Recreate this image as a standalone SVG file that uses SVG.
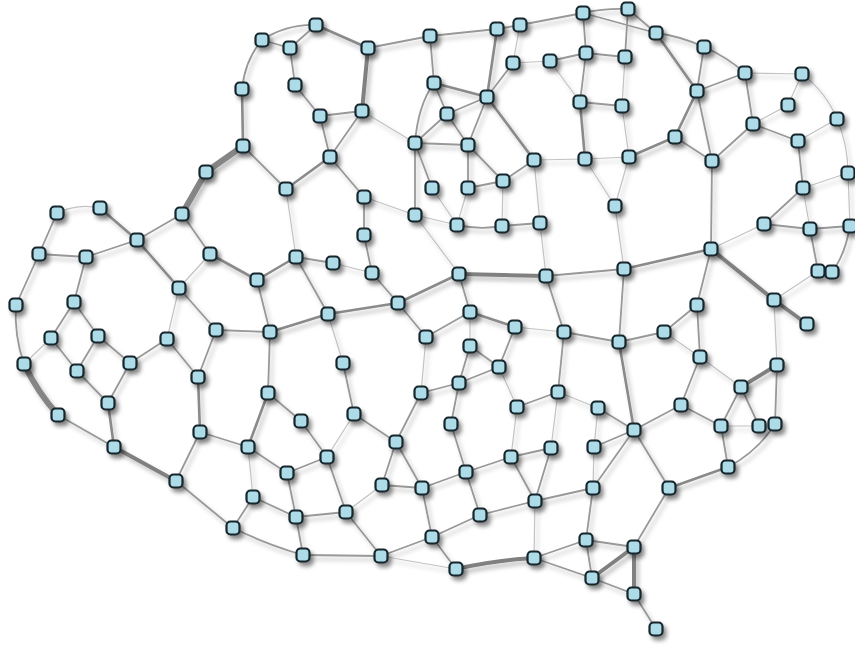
<svg xmlns="http://www.w3.org/2000/svg" xmlns:xlink="http://www.w3.org/1999/xlink" width="855" height="646" viewBox="0 0 855 646">
<style>
.e line,.e path{fill:none;stroke-linecap:round}
.w1{stroke:#c2c2c2;stroke-width:1.2}
.w2{stroke:#989898;stroke-width:1.8}
.w3{stroke:#8a8a8a;stroke-width:2.6}
.w4{stroke:#808080;stroke-width:4}
.w5{stroke:#858585;stroke-width:6}
.nd{fill:#aedbe8;stroke:#15252c;stroke-width:2.2}
</style>
<defs>
<filter id="sh" x="-5%" y="-5%" width="115%" height="115%">
<feDropShadow dx="3" dy="4" stdDeviation="2.2" flood-color="#000" flood-opacity="0.45"/>
</filter>
<filter id="shl" x="-5%" y="-5%" width="115%" height="115%">
<feDropShadow dx="3" dy="4" stdDeviation="2" flood-color="#000" flood-opacity="0.25"/>
</filter>
<rect id="n" class="nd" x="-6.5" y="-6.5" width="13" height="13" rx="4"/>
</defs>
<rect width="855" height="646" fill="#fff"/>
<g id="connectors" class="e" filter="url(#shl)">
<path class="w2" d="M262,40 Q287,24 316,25"/>
<line class="w2" x1="262" y1="40" x2="290" y2="48"/>
<line class="w2" x1="290" y1="48" x2="316" y2="25"/>
<line class="w3" x1="316" y1="25" x2="368" y2="48"/>
<line class="w2" x1="368" y1="48" x2="430" y2="36"/>
<path class="w2" d="M262,40 Q245,60 242,89"/>
<line class="w2" x1="290" y1="48" x2="295" y2="85"/>
<line class="w2" x1="295" y1="85" x2="320" y2="116"/>
<line class="w2" x1="320" y1="116" x2="362" y2="111"/>
<line class="w4" x1="368" y1="48" x2="362" y2="111"/>
<line class="w3" x1="242" y1="89" x2="243" y2="146"/>
<line class="w2" x1="320" y1="116" x2="330" y2="157"/>
<line class="w2" x1="362" y1="111" x2="330" y2="157"/>
<line class="w1" x1="362" y1="111" x2="415" y2="143"/>
<line class="w2" x1="243" y1="146" x2="286" y2="189"/>
<line class="w3" x1="286" y1="189" x2="330" y2="157"/>
<line class="w2" x1="330" y1="157" x2="364" y2="197"/>
<line class="w1" x1="364" y1="197" x2="415" y2="215"/>
<line class="w5" x1="243" y1="146" x2="206" y2="172"/>
<line class="w1" x1="286" y1="189" x2="296" y2="257"/>
<path class="w2" d="M415,143 Q418,105 434,83"/>
<line class="w2" x1="415" y1="143" x2="447" y2="114"/>
<line class="w2" x1="415" y1="143" x2="468" y2="145"/>
<line class="w2" x1="415" y1="143" x2="415" y2="215"/>
<line class="w2" x1="415" y1="143" x2="432" y2="188"/>
<line class="w1" x1="415" y1="215" x2="457" y2="225"/>
<line class="w1" x1="415" y1="215" x2="459" y2="274"/>
<line class="w2" x1="430" y1="36" x2="497" y2="29"/>
<line class="w2" x1="430" y1="36" x2="434" y2="83"/>
<line class="w2" x1="497" y1="29" x2="520" y2="25"/>
<line class="w2" x1="520" y1="25" x2="583" y2="13"/>
<path class="w2" d="M583,13 Q605,8 628,9"/>
<line class="w2" x1="583" y1="13" x2="656" y2="33"/>
<line class="w2" x1="628" y1="9" x2="656" y2="33"/>
<line class="w3" x1="497" y1="29" x2="487" y2="97"/>
<line class="w1" x1="520" y1="25" x2="513" y2="63"/>
<line class="w1" x1="513" y1="63" x2="550" y2="61"/>
<line class="w2" x1="550" y1="61" x2="586" y2="53"/>
<line class="w2" x1="586" y1="53" x2="625" y2="57"/>
<line class="w2" x1="583" y1="13" x2="586" y2="53"/>
<line class="w2" x1="628" y1="9" x2="625" y2="57"/>
<line class="w1" x1="550" y1="61" x2="580" y2="102"/>
<line class="w2" x1="586" y1="53" x2="580" y2="102"/>
<line class="w2" x1="580" y1="102" x2="622" y2="106"/>
<line class="w1" x1="625" y1="57" x2="622" y2="106"/>
<line class="w3" x1="580" y1="102" x2="585" y2="159"/>
<line class="w1" x1="622" y1="106" x2="629" y2="157"/>
<line class="w1" x1="585" y1="159" x2="629" y2="157"/>
<line class="w1" x1="534" y1="160" x2="585" y2="159"/>
<line class="w1" x1="585" y1="159" x2="615" y2="206"/>
<line class="w1" x1="629" y1="157" x2="615" y2="206"/>
<line class="w3" x1="487" y1="97" x2="534" y2="160"/>
<line class="w2" x1="513" y1="63" x2="487" y2="97"/>
<line class="w3" x1="434" y1="83" x2="487" y2="97"/>
<line class="w2" x1="434" y1="83" x2="447" y2="114"/>
<line class="w2" x1="487" y1="97" x2="447" y2="114"/>
<line class="w2" x1="487" y1="97" x2="468" y2="145"/>
<line class="w2" x1="447" y1="114" x2="468" y2="145"/>
<line class="w2" x1="468" y1="145" x2="468" y2="188"/>
<line class="w2" x1="468" y1="145" x2="503" y2="181"/>
<line class="w1" x1="432" y1="188" x2="457" y2="225"/>
<line class="w1" x1="468" y1="188" x2="457" y2="225"/>
<line class="w2" x1="468" y1="188" x2="503" y2="181"/>
<line class="w2" x1="534" y1="160" x2="503" y2="181"/>
<line class="w1" x1="534" y1="160" x2="540" y2="223"/>
<line class="w1" x1="503" y1="181" x2="502" y2="226"/>
<path class="w2" d="M457,225 Q480,230 502,226"/>
<line class="w2" x1="502" y1="226" x2="540" y2="223"/>
<line class="w3" x1="629" y1="157" x2="675" y2="137"/>
<path class="w2" d="M656,33 Q680,36 704,47"/>
<path class="w2" d="M704,47 Q727,57 745,73"/>
<line class="w1" x1="745" y1="73" x2="802" y2="74"/>
<path class="w1" d="M802,74 Q826,92 837,119"/>
<path class="w1" d="M837,119 Q848,145 848,173"/>
<line class="w3" x1="656" y1="33" x2="697" y2="91"/>
<line class="w2" x1="704" y1="47" x2="697" y2="91"/>
<line class="w2" x1="697" y1="91" x2="745" y2="73"/>
<line class="w2" x1="745" y1="73" x2="753" y2="124"/>
<line class="w1" x1="753" y1="124" x2="788" y2="105"/>
<line class="w1" x1="788" y1="105" x2="802" y2="74"/>
<line class="w2" x1="753" y1="124" x2="798" y2="141"/>
<line class="w1" x1="798" y1="141" x2="837" y2="119"/>
<line class="w2" x1="798" y1="141" x2="803" y2="188"/>
<line class="w1" x1="803" y1="188" x2="848" y2="173"/>
<line class="w3" x1="697" y1="91" x2="675" y2="137"/>
<line class="w2" x1="697" y1="91" x2="712" y2="161"/>
<line class="w2" x1="675" y1="137" x2="712" y2="161"/>
<line class="w2" x1="712" y1="161" x2="753" y2="124"/>
<line class="w2" x1="712" y1="161" x2="711" y2="249"/>
<line class="w2" x1="803" y1="188" x2="764" y2="224"/>
<line class="w1" x1="803" y1="188" x2="810" y2="229"/>
<line class="w1" x1="848" y1="173" x2="850" y2="226"/>
<line class="w2" x1="764" y1="224" x2="810" y2="229"/>
<line class="w2" x1="810" y1="229" x2="850" y2="226"/>
<line class="w1" x1="764" y1="224" x2="711" y2="249"/>
<line class="w2" x1="810" y1="229" x2="818" y2="271"/>
<path class="w2" d="M850,226 Q845,255 832,272"/>
<line class="w4" x1="711" y1="249" x2="774" y2="300"/>
<line class="w4" x1="774" y1="300" x2="807" y2="324"/>
<line class="w1" x1="774" y1="300" x2="818" y2="271"/>
<line class="w3" x1="711" y1="249" x2="624" y2="269"/>
<line class="w2" x1="711" y1="249" x2="697" y2="305"/>
<line class="w2" x1="697" y1="305" x2="664" y2="332"/>
<line class="w2" x1="664" y1="332" x2="619" y2="342"/>
<line class="w2" x1="697" y1="305" x2="700" y2="357"/>
<line class="w1" x1="664" y1="332" x2="700" y2="357"/>
<line class="w1" x1="774" y1="300" x2="777" y2="365"/>
<line class="w4" x1="777" y1="365" x2="741" y2="387"/>
<line class="w2" x1="777" y1="365" x2="775" y2="424"/>
<line class="w2" x1="741" y1="387" x2="721" y2="426"/>
<line class="w2" x1="741" y1="387" x2="759" y2="426"/>
<line class="w1" x1="700" y1="357" x2="741" y2="387"/>
<line class="w2" x1="700" y1="357" x2="681" y2="405"/>
<line class="w2" x1="681" y1="405" x2="721" y2="426"/>
<line class="w2" x1="681" y1="405" x2="634" y2="430"/>
<line class="w1" x1="721" y1="426" x2="759" y2="426"/>
<line class="w2" x1="721" y1="426" x2="728" y2="467"/>
<path class="w2" d="M775,424 Q757,452 728,467"/>
<line class="w3" x1="728" y1="467" x2="669" y2="488"/>
<line class="w2" x1="669" y1="488" x2="634" y2="430"/>
<line class="w2" x1="669" y1="488" x2="634" y2="547"/>
<line class="w4" x1="634" y1="547" x2="634" y2="594"/>
<line class="w2" x1="634" y1="594" x2="656" y2="629"/>
<line class="w4" x1="459" y1="274" x2="546" y2="276"/>
<line class="w2" x1="546" y1="276" x2="624" y2="269"/>
<line class="w3" x1="459" y1="274" x2="398" y2="303"/>
<line class="w2" x1="459" y1="274" x2="470" y2="312"/>
<line class="w1" x1="546" y1="276" x2="540" y2="223"/>
<line class="w1" x1="624" y1="269" x2="615" y2="206"/>
<line class="w2" x1="546" y1="276" x2="564" y2="332"/>
<line class="w1" x1="515" y1="327" x2="564" y2="332"/>
<line class="w3" x1="470" y1="312" x2="515" y2="327"/>
<line class="w2" x1="470" y1="312" x2="426" y2="337"/>
<line class="w1" x1="470" y1="312" x2="470" y2="346"/>
<line class="w2" x1="515" y1="327" x2="499" y2="367"/>
<line class="w2" x1="470" y1="346" x2="499" y2="367"/>
<line class="w2" x1="499" y1="367" x2="459" y2="383"/>
<line class="w2" x1="470" y1="346" x2="459" y2="383"/>
<line class="w2" x1="459" y1="383" x2="421" y2="393"/>
<line class="w2" x1="459" y1="383" x2="451" y2="424"/>
<line class="w1" x1="499" y1="367" x2="517" y2="407"/>
<line class="w2" x1="517" y1="407" x2="558" y2="392"/>
<line class="w2" x1="564" y1="332" x2="558" y2="392"/>
<line class="w2" x1="564" y1="332" x2="619" y2="342"/>
<line class="w2" x1="624" y1="269" x2="619" y2="342"/>
<line class="w3" x1="619" y1="342" x2="634" y2="430"/>
<line class="w2" x1="598" y1="408" x2="634" y2="430"/>
<line class="w1" x1="558" y1="392" x2="598" y2="408"/>
<line class="w1" x1="426" y1="337" x2="421" y2="393"/>
<line class="w3" x1="296" y1="257" x2="257" y2="280"/>
<line class="w2" x1="296" y1="257" x2="333" y2="263"/>
<line class="w2" x1="296" y1="257" x2="328" y2="314"/>
<line class="w3" x1="257" y1="280" x2="210" y2="254"/>
<line class="w2" x1="257" y1="280" x2="270" y2="332"/>
<line class="w3" x1="328" y1="314" x2="270" y2="332"/>
<line class="w2" x1="270" y1="332" x2="216" y2="330"/>
<line class="w3" x1="328" y1="314" x2="398" y2="303"/>
<line class="w1" x1="328" y1="314" x2="343" y2="363"/>
<line class="w2" x1="398" y1="303" x2="372" y2="273"/>
<line class="w2" x1="372" y1="273" x2="364" y2="235"/>
<line class="w2" x1="364" y1="235" x2="364" y2="197"/>
<line class="w1" x1="372" y1="273" x2="333" y2="263"/>
<line class="w2" x1="398" y1="303" x2="426" y2="337"/>
<line class="w2" x1="270" y1="332" x2="268" y2="393"/>
<line class="w2" x1="343" y1="363" x2="354" y2="414"/>
<line class="w2" x1="268" y1="393" x2="301" y2="421"/>
<line class="w3" x1="268" y1="393" x2="248" y2="447"/>
<line class="w2" x1="421" y1="393" x2="396" y2="442"/>
<line class="w2" x1="354" y1="414" x2="396" y2="442"/>
<line class="w1" x1="354" y1="414" x2="327" y2="457"/>
<line class="w2" x1="301" y1="421" x2="327" y2="457"/>
<path class="w1" d="M57,213 Q78,203 100,208"/>
<line class="w2" x1="57" y1="213" x2="39" y2="254"/>
<line class="w3" x1="100" y1="208" x2="137" y2="240"/>
<line class="w2" x1="182" y1="214" x2="137" y2="240"/>
<line class="w2" x1="182" y1="214" x2="210" y2="254"/>
<line class="w3" x1="137" y1="240" x2="179" y2="288"/>
<line class="w2" x1="137" y1="240" x2="86" y2="257"/>
<line class="w2" x1="39" y1="254" x2="86" y2="257"/>
<line class="w2" x1="39" y1="254" x2="16" y2="305"/>
<line class="w2" x1="86" y1="257" x2="74" y2="302"/>
<line class="w1" x1="210" y1="254" x2="179" y2="288"/>
<line class="w2" x1="179" y1="288" x2="216" y2="330"/>
<line class="w1" x1="179" y1="288" x2="167" y2="339"/>
<line class="w2" x1="74" y1="302" x2="51" y2="338"/>
<line class="w2" x1="74" y1="302" x2="98" y2="336"/>
<line class="w2" x1="51" y1="338" x2="77" y2="371"/>
<line class="w2" x1="98" y1="336" x2="77" y2="371"/>
<line class="w2" x1="98" y1="336" x2="130" y2="363"/>
<line class="w2" x1="130" y1="363" x2="167" y2="339"/>
<line class="w2" x1="77" y1="371" x2="108" y2="403"/>
<line class="w2" x1="130" y1="363" x2="108" y2="403"/>
<line class="w2" x1="167" y1="339" x2="198" y2="377"/>
<line class="w2" x1="198" y1="377" x2="216" y2="330"/>
<line class="w3" x1="198" y1="377" x2="200" y2="432"/>
<path class="w2" d="M16,305 Q14,335 24,364"/>
<line class="w1" x1="24" y1="364" x2="51" y2="338"/>
<path class="w5" d="M24,364 Q38,393 58,415"/>
<line class="w3" x1="108" y1="403" x2="114" y2="447"/>
<line class="w2" x1="58" y1="415" x2="114" y2="447"/>
<line class="w4" x1="114" y1="447" x2="176" y2="481"/>
<line class="w2" x1="200" y1="432" x2="176" y2="481"/>
<line class="w2" x1="176" y1="481" x2="233" y2="528"/>
<line class="w5" x1="182" y1="214" x2="206" y2="172"/>
<line class="w2" x1="200" y1="432" x2="248" y2="447"/>
<line class="w2" x1="248" y1="447" x2="287" y2="473"/>
<line class="w2" x1="287" y1="473" x2="327" y2="457"/>
<line class="w2" x1="287" y1="473" x2="296" y2="517"/>
<line class="w1" x1="248" y1="447" x2="253" y2="497"/>
<line class="w2" x1="253" y1="497" x2="296" y2="517"/>
<line class="w2" x1="253" y1="497" x2="233" y2="528"/>
<path class="w2" d="M233,528 Q268,545 303,555"/>
<line class="w2" x1="296" y1="517" x2="303" y2="555"/>
<line class="w2" x1="327" y1="457" x2="346" y2="512"/>
<line class="w2" x1="296" y1="517" x2="346" y2="512"/>
<line class="w2" x1="346" y1="512" x2="381" y2="556"/>
<line class="w2" x1="303" y1="555" x2="381" y2="556"/>
<line class="w1" x1="346" y1="512" x2="382" y2="485"/>
<line class="w2" x1="381" y1="556" x2="432" y2="537"/>
<line class="w1" x1="381" y1="556" x2="456" y2="569"/>
<line class="w2" x1="396" y1="442" x2="382" y2="485"/>
<line class="w2" x1="396" y1="442" x2="422" y2="488"/>
<line class="w2" x1="382" y1="485" x2="422" y2="488"/>
<line class="w2" x1="422" y1="488" x2="432" y2="537"/>
<line class="w2" x1="451" y1="424" x2="466" y2="472"/>
<line class="w2" x1="466" y1="472" x2="511" y2="457"/>
<line class="w2" x1="511" y1="457" x2="551" y2="448"/>
<line class="w2" x1="551" y1="448" x2="535" y2="501"/>
<line class="w2" x1="511" y1="457" x2="535" y2="501"/>
<line class="w1" x1="551" y1="448" x2="558" y2="392"/>
<line class="w1" x1="511" y1="457" x2="517" y2="407"/>
<line class="w2" x1="594" y1="447" x2="634" y2="430"/>
<line class="w1" x1="594" y1="447" x2="598" y2="408"/>
<line class="w1" x1="594" y1="447" x2="593" y2="488"/>
<line class="w2" x1="593" y1="488" x2="634" y2="430"/>
<line class="w2" x1="535" y1="501" x2="593" y2="488"/>
<line class="w2" x1="466" y1="472" x2="422" y2="488"/>
<line class="w2" x1="466" y1="472" x2="480" y2="515"/>
<line class="w2" x1="535" y1="501" x2="480" y2="515"/>
<line class="w1" x1="535" y1="501" x2="534" y2="558"/>
<line class="w2" x1="480" y1="515" x2="432" y2="537"/>
<line class="w2" x1="432" y1="537" x2="456" y2="569"/>
<path class="w4" d="M456,569 Q497,560 534,558"/>
<line class="w2" x1="534" y1="558" x2="586" y2="540"/>
<line class="w2" x1="593" y1="488" x2="586" y2="540"/>
<line class="w2" x1="586" y1="540" x2="634" y2="547"/>
<line class="w2" x1="586" y1="540" x2="592" y2="578"/>
<line class="w2" x1="534" y1="558" x2="592" y2="578"/>
<line class="w4" x1="592" y1="578" x2="634" y2="547"/>
<line class="w2" x1="592" y1="578" x2="634" y2="594"/>
</g>
<g id="nodes" filter="url(#sh)">
<g id="A1" transform="translate(262,40)"><use xlink:href="#n"/></g>
<g id="A2" transform="translate(316,25)"><use xlink:href="#n"/></g>
<g id="A3" transform="translate(290,48)"><use xlink:href="#n"/></g>
<g id="A4" transform="translate(368,48)"><use xlink:href="#n"/></g>
<g id="A5" transform="translate(430,36)"><use xlink:href="#n"/></g>
<g id="A6" transform="translate(242,89)"><use xlink:href="#n"/></g>
<g id="A7" transform="translate(295,85)"><use xlink:href="#n"/></g>
<g id="A8" transform="translate(320,116)"><use xlink:href="#n"/></g>
<g id="A9" transform="translate(362,111)"><use xlink:href="#n"/></g>
<g id="A10" transform="translate(243,146)"><use xlink:href="#n"/></g>
<g id="A11" transform="translate(330,157)"><use xlink:href="#n"/></g>
<g id="A12" transform="translate(415,143)"><use xlink:href="#n"/></g>
<g id="A13" transform="translate(286,189)"><use xlink:href="#n"/></g>
<g id="A14" transform="translate(364,197)"><use xlink:href="#n"/></g>
<g id="A15" transform="translate(415,215)"><use xlink:href="#n"/></g>
<g id="A16" transform="translate(206,172)"><use xlink:href="#n"/></g>
<g id="B1" transform="translate(497,29)"><use xlink:href="#n"/></g>
<g id="B2" transform="translate(520,25)"><use xlink:href="#n"/></g>
<g id="B3" transform="translate(583,13)"><use xlink:href="#n"/></g>
<g id="B4" transform="translate(628,9)"><use xlink:href="#n"/></g>
<g id="B5" transform="translate(434,83)"><use xlink:href="#n"/></g>
<g id="B6" transform="translate(513,63)"><use xlink:href="#n"/></g>
<g id="B7" transform="translate(550,61)"><use xlink:href="#n"/></g>
<g id="B8" transform="translate(586,53)"><use xlink:href="#n"/></g>
<g id="B9" transform="translate(625,57)"><use xlink:href="#n"/></g>
<g id="B10" transform="translate(487,97)"><use xlink:href="#n"/></g>
<g id="B11" transform="translate(447,114)"><use xlink:href="#n"/></g>
<g id="B12" transform="translate(580,102)"><use xlink:href="#n"/></g>
<g id="B13" transform="translate(622,106)"><use xlink:href="#n"/></g>
<g id="B14" transform="translate(468,145)"><use xlink:href="#n"/></g>
<g id="B15" transform="translate(534,160)"><use xlink:href="#n"/></g>
<g id="B16" transform="translate(585,159)"><use xlink:href="#n"/></g>
<g id="B17" transform="translate(629,157)"><use xlink:href="#n"/></g>
<g id="B18" transform="translate(432,188)"><use xlink:href="#n"/></g>
<g id="B19" transform="translate(468,188)"><use xlink:href="#n"/></g>
<g id="B20" transform="translate(503,181)"><use xlink:href="#n"/></g>
<g id="B21" transform="translate(615,206)"><use xlink:href="#n"/></g>
<g id="B22" transform="translate(457,225)"><use xlink:href="#n"/></g>
<g id="B23" transform="translate(502,226)"><use xlink:href="#n"/></g>
<g id="B24" transform="translate(540,223)"><use xlink:href="#n"/></g>
<g id="C1" transform="translate(656,33)"><use xlink:href="#n"/></g>
<g id="C2" transform="translate(704,47)"><use xlink:href="#n"/></g>
<g id="C3" transform="translate(745,73)"><use xlink:href="#n"/></g>
<g id="C4" transform="translate(802,74)"><use xlink:href="#n"/></g>
<g id="C5" transform="translate(697,91)"><use xlink:href="#n"/></g>
<g id="C6" transform="translate(788,105)"><use xlink:href="#n"/></g>
<g id="C7" transform="translate(837,119)"><use xlink:href="#n"/></g>
<g id="C8" transform="translate(753,124)"><use xlink:href="#n"/></g>
<g id="C9" transform="translate(798,141)"><use xlink:href="#n"/></g>
<g id="C10" transform="translate(675,137)"><use xlink:href="#n"/></g>
<g id="C11" transform="translate(712,161)"><use xlink:href="#n"/></g>
<g id="C12" transform="translate(848,173)"><use xlink:href="#n"/></g>
<g id="C13" transform="translate(803,188)"><use xlink:href="#n"/></g>
<g id="D1" transform="translate(57,213)"><use xlink:href="#n"/></g>
<g id="D2" transform="translate(100,208)"><use xlink:href="#n"/></g>
<g id="D3" transform="translate(182,214)"><use xlink:href="#n"/></g>
<g id="D4" transform="translate(137,240)"><use xlink:href="#n"/></g>
<g id="D5" transform="translate(39,254)"><use xlink:href="#n"/></g>
<g id="D6" transform="translate(86,257)"><use xlink:href="#n"/></g>
<g id="D7" transform="translate(210,254)"><use xlink:href="#n"/></g>
<g id="D8" transform="translate(179,288)"><use xlink:href="#n"/></g>
<g id="D9" transform="translate(16,305)"><use xlink:href="#n"/></g>
<g id="D10" transform="translate(74,302)"><use xlink:href="#n"/></g>
<g id="D11" transform="translate(51,338)"><use xlink:href="#n"/></g>
<g id="D12" transform="translate(98,336)"><use xlink:href="#n"/></g>
<g id="D13" transform="translate(167,339)"><use xlink:href="#n"/></g>
<g id="D14" transform="translate(216,330)"><use xlink:href="#n"/></g>
<g id="D15" transform="translate(24,364)"><use xlink:href="#n"/></g>
<g id="D16" transform="translate(77,371)"><use xlink:href="#n"/></g>
<g id="D17" transform="translate(130,363)"><use xlink:href="#n"/></g>
<g id="D18" transform="translate(198,377)"><use xlink:href="#n"/></g>
<g id="D19" transform="translate(58,415)"><use xlink:href="#n"/></g>
<g id="D20" transform="translate(108,403)"><use xlink:href="#n"/></g>
<g id="D21" transform="translate(200,432)"><use xlink:href="#n"/></g>
<g id="D22" transform="translate(114,447)"><use xlink:href="#n"/></g>
<g id="D23" transform="translate(176,481)"><use xlink:href="#n"/></g>
<g id="E1" transform="translate(296,257)"><use xlink:href="#n"/></g>
<g id="E2" transform="translate(333,263)"><use xlink:href="#n"/></g>
<g id="E3" transform="translate(257,280)"><use xlink:href="#n"/></g>
<g id="E4" transform="translate(364,235)"><use xlink:href="#n"/></g>
<g id="E5" transform="translate(372,273)"><use xlink:href="#n"/></g>
<g id="E6" transform="translate(398,303)"><use xlink:href="#n"/></g>
<g id="E7" transform="translate(328,314)"><use xlink:href="#n"/></g>
<g id="E8" transform="translate(270,332)"><use xlink:href="#n"/></g>
<g id="E9" transform="translate(426,337)"><use xlink:href="#n"/></g>
<g id="E10" transform="translate(343,363)"><use xlink:href="#n"/></g>
<g id="E11" transform="translate(268,393)"><use xlink:href="#n"/></g>
<g id="E12" transform="translate(301,421)"><use xlink:href="#n"/></g>
<g id="E13" transform="translate(354,414)"><use xlink:href="#n"/></g>
<g id="E14" transform="translate(421,393)"><use xlink:href="#n"/></g>
<g id="F1" transform="translate(459,274)"><use xlink:href="#n"/></g>
<g id="F2" transform="translate(546,276)"><use xlink:href="#n"/></g>
<g id="F3" transform="translate(624,269)"><use xlink:href="#n"/></g>
<g id="F4" transform="translate(470,312)"><use xlink:href="#n"/></g>
<g id="F5" transform="translate(515,327)"><use xlink:href="#n"/></g>
<g id="F6" transform="translate(564,332)"><use xlink:href="#n"/></g>
<g id="F7" transform="translate(619,342)"><use xlink:href="#n"/></g>
<g id="F8" transform="translate(470,346)"><use xlink:href="#n"/></g>
<g id="F9" transform="translate(499,367)"><use xlink:href="#n"/></g>
<g id="F10" transform="translate(459,383)"><use xlink:href="#n"/></g>
<g id="F11" transform="translate(558,392)"><use xlink:href="#n"/></g>
<g id="F12" transform="translate(517,407)"><use xlink:href="#n"/></g>
<g id="F13" transform="translate(598,408)"><use xlink:href="#n"/></g>
<g id="F14" transform="translate(451,424)"><use xlink:href="#n"/></g>
<g id="F15" transform="translate(634,430)"><use xlink:href="#n"/></g>
<g id="G1" transform="translate(764,224)"><use xlink:href="#n"/></g>
<g id="G2" transform="translate(810,229)"><use xlink:href="#n"/></g>
<g id="G3" transform="translate(850,226)"><use xlink:href="#n"/></g>
<g id="G4" transform="translate(711,249)"><use xlink:href="#n"/></g>
<g id="G5" transform="translate(818,271)"><use xlink:href="#n"/></g>
<g id="G6" transform="translate(832,272)"><use xlink:href="#n"/></g>
<g id="G7" transform="translate(774,300)"><use xlink:href="#n"/></g>
<g id="G8" transform="translate(807,324)"><use xlink:href="#n"/></g>
<g id="G9" transform="translate(697,305)"><use xlink:href="#n"/></g>
<g id="G10" transform="translate(664,332)"><use xlink:href="#n"/></g>
<g id="G11" transform="translate(700,357)"><use xlink:href="#n"/></g>
<g id="G12" transform="translate(777,365)"><use xlink:href="#n"/></g>
<g id="G13" transform="translate(741,387)"><use xlink:href="#n"/></g>
<g id="G14" transform="translate(681,405)"><use xlink:href="#n"/></g>
<g id="G15" transform="translate(721,426)"><use xlink:href="#n"/></g>
<g id="G16" transform="translate(759,426)"><use xlink:href="#n"/></g>
<g id="G17" transform="translate(775,424)"><use xlink:href="#n"/></g>
<g id="G18" transform="translate(728,467)"><use xlink:href="#n"/></g>
<g id="G19" transform="translate(669,488)"><use xlink:href="#n"/></g>
<g id="H1" transform="translate(248,447)"><use xlink:href="#n"/></g>
<g id="H2" transform="translate(327,457)"><use xlink:href="#n"/></g>
<g id="H3" transform="translate(396,442)"><use xlink:href="#n"/></g>
<g id="H4" transform="translate(287,473)"><use xlink:href="#n"/></g>
<g id="H5" transform="translate(382,485)"><use xlink:href="#n"/></g>
<g id="H6" transform="translate(422,488)"><use xlink:href="#n"/></g>
<g id="H7" transform="translate(253,497)"><use xlink:href="#n"/></g>
<g id="H8" transform="translate(296,517)"><use xlink:href="#n"/></g>
<g id="H9" transform="translate(346,512)"><use xlink:href="#n"/></g>
<g id="H10" transform="translate(233,528)"><use xlink:href="#n"/></g>
<g id="H11" transform="translate(303,555)"><use xlink:href="#n"/></g>
<g id="H12" transform="translate(381,556)"><use xlink:href="#n"/></g>
<g id="H13" transform="translate(511,457)"><use xlink:href="#n"/></g>
<g id="H14" transform="translate(551,448)"><use xlink:href="#n"/></g>
<g id="H15" transform="translate(594,447)"><use xlink:href="#n"/></g>
<g id="H16" transform="translate(466,472)"><use xlink:href="#n"/></g>
<g id="H17" transform="translate(535,501)"><use xlink:href="#n"/></g>
<g id="H18" transform="translate(593,488)"><use xlink:href="#n"/></g>
<g id="H19" transform="translate(480,515)"><use xlink:href="#n"/></g>
<g id="H20" transform="translate(432,537)"><use xlink:href="#n"/></g>
<g id="H21" transform="translate(586,540)"><use xlink:href="#n"/></g>
<g id="H22" transform="translate(634,547)"><use xlink:href="#n"/></g>
<g id="H23" transform="translate(534,558)"><use xlink:href="#n"/></g>
<g id="H24" transform="translate(456,569)"><use xlink:href="#n"/></g>
<g id="H25" transform="translate(592,578)"><use xlink:href="#n"/></g>
<g id="H26" transform="translate(634,594)"><use xlink:href="#n"/></g>
<g id="H27" transform="translate(656,629)"><use xlink:href="#n"/></g>
</g>
</svg>
